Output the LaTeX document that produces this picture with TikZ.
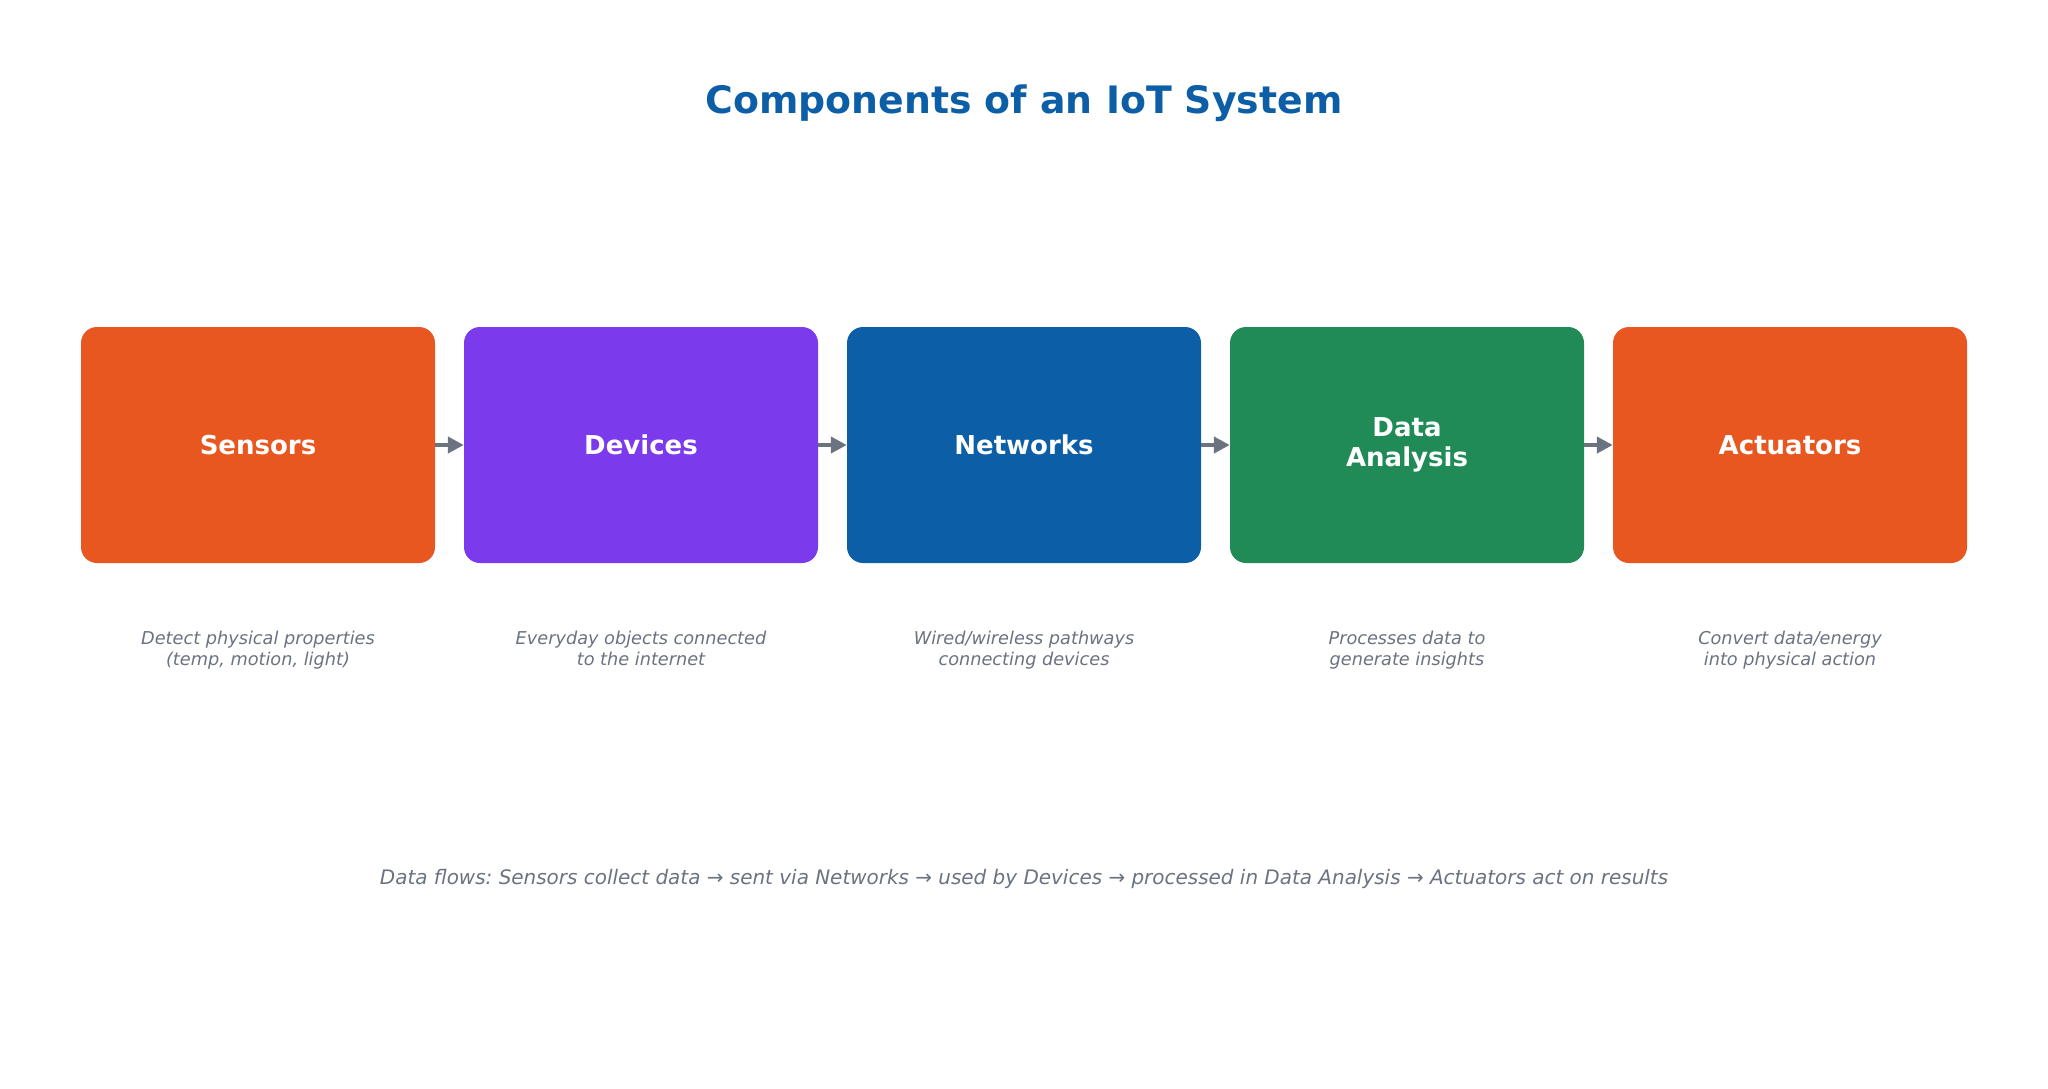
\documentclass[tikz,border=0pt]{standalone}
\usepackage{fontspec}
\setmainfont{DejaVu Sans}
\usetikzlibrary{arrows.meta}
\frenchspacing

\definecolor{orangebox}{HTML}{E8571F}
\definecolor{purplebox}{HTML}{7C3AED}
\definecolor{bluebox}{HTML}{0C5FA6}
\definecolor{greenbox}{HTML}{208B57}
\definecolor{greytext}{HTML}{6B7280}

\begin{document}
\begin{tikzpicture}[x=1pt,y=-1pt]
\tikzset{block/.style = {shape=rectangle,rounded corners=16pt,minimum width=354pt,minimum height=236pt,
  text=white,align=center,font=\fontsize{26}{30}\selectfont\bfseries}}
\tikzset{note/.style = {text=greytext,align=center,anchor=base,font=\fontsize{17.7}{21}\selectfont\itshape}}
\tikzset{edge/.style = {-{Triangle[length=16pt,width=16pt]},draw=greytext,line width=4pt}}
\useasboundingbox[fill=white] (0,0) rectangle (2048,1088);
\node[text=bluebox,font=\fontsize{37.8}{46}\selectfont\bfseries] (title) at (1024,103) {Components of an IoT System};
% the five components
\node[block,fill=orangebox] (a) at (258,445) {Sensors};
\node[block,fill=purplebox] (b) at (641,445) {Devices};
\node[block,fill=bluebox] (c) at (1024,445) {Networks};
\node[block,fill=greenbox] (d) at (1407,445) {Data\\Analysis};
\node[block,fill=orangebox] (e) at (1790,445) {Actuators};
\draw[edge] (a) to (b);
\draw[edge] (b) to (c);
\draw[edge] (c) to (d);
\draw[edge] (d) to (e);
% short notes under the boxes
\node[note] (na) at (258,665) {Detect physical properties\\(temp, motion, light)};
\node[note] (nb) at (641,665) {Everyday objects connected\\to the internet};
\node[note] (nc) at (1024,665) {Wired/wireless pathways\\connecting devices};
\node[note] (nd) at (1407,665) {Processes data to\\generate insights};
\node[note] (ne) at (1790,665) {Convert data/energy\\into physical action};
\node[note,anchor=center,font=\fontsize{19.95}{24}\selectfont\itshape] (flow) at (1024,879) {Data flows: Sensors collect data → sent via Networks → used by Devices → processed in Data Analysis → Actuators act on results};
\end{tikzpicture}
\end{document}
